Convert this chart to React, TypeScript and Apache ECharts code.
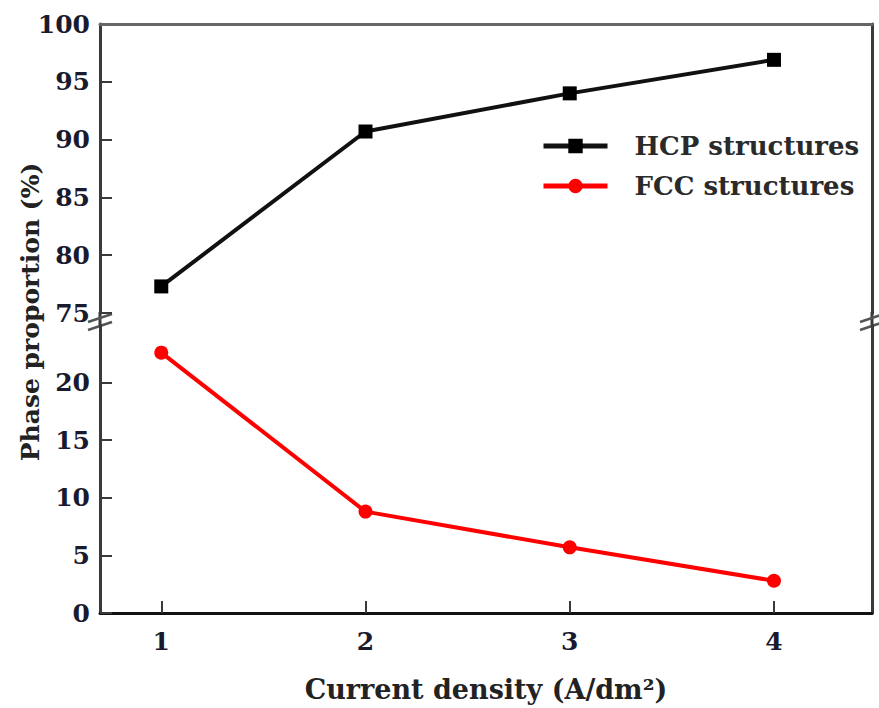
import React, { useEffect, useRef } from "react";
import * as echarts from "echarts";

const xValues = [1, 2, 3, 4];
const hcpValues = [77.3, 90.7, 94.0, 96.9];
const fccValues = [22.6, 8.8, 5.7, 2.8];
const upperTicks = [75, 80, 85, 90, 95, 100];
const lowerTicks = [0, 5, 10, 15, 20];
const seriesNames = ["HCP structures", "FCC structures"];
const xName = "Current density (A/dm²)";
const yName = "Phase proportion (%)";

const FONT = "DejaVu Serif";
const AXIS_COLOR = "#3a3a3a";

export default function App() {
  const ref = useRef<HTMLDivElement>(null);
  useEffect(() => {
    if (!ref.current) return;
    const chart = echarts.init(ref.current, undefined, { renderer: "svg" });
    const labelStyle = {
      fontFamily: FONT,
      fontWeight: "bold" as const,
      fontSize: 25,
      color: "#1a1a2e",
    };
    const plainLine = { show: true, lineStyle: { color: AXIS_COLOR, width: 3 } };
    const tickStyle = { show: true, inside: true, length: 12, lineStyle: { color: AXIS_COLOR, width: 2 } };
    const xMin = 0.7;
    const xMax = 4.48;
    chart.setOption({
      animation: false,
      backgroundColor: "#ffffff",
      grid: [
        { left: 100, right: 7, top: 24, bottom: 395 },
        { left: 100, right: 7, top: 325, bottom: 95 },
      ],
      legend: {
        orient: "vertical",
        left: 536,
        top: 128,
        itemWidth: 64,
        itemHeight: 18,
        itemGap: 14,
        data: seriesNames,
        lineStyle: { width: 5 },
        textStyle: {
          fontFamily: FONT,
          fontWeight: "bold",
          fontSize: 26,
          color: "#2a2a2a",
          padding: [0, 0, 0, 22],
        },
      },
      xAxis: [
        {
          type: "value",
          gridIndex: 0,
          position: "top",
          min: xMin,
          max: xMax,
          axisLine: { show: true, lineStyle: { color: "#666", width: 3 } },
          axisTick: { show: false },
          axisLabel: { show: false },
          splitLine: { show: false },
        },
        {
          type: "value",
          gridIndex: 1,
          position: "bottom",
          min: xMin,
          max: xMax,
          axisLine: { show: true, lineStyle: { color: "#111", width: 3 } },
          axisTick: { ...tickStyle, customValues: xValues },
          axisLabel: { ...labelStyle, margin: 16, customValues: xValues },
          splitLine: { show: false },
          name: xName,
          nameLocation: "middle",
          nameGap: 63,
          nameTextStyle: { fontFamily: FONT, fontWeight: "bold", fontSize: 27, color: "#222" },
        },
      ],
      yAxis: [
        {
          type: "value",
          gridIndex: 0,
          position: "left",
          min: 75,
          max: 100,
          axisLine: plainLine,
          axisTick: { ...tickStyle, customValues: [75, 80, 85, 90, 95] },
          axisLabel: { ...labelStyle, margin: 10, customValues: upperTicks },
          splitLine: { show: false },
        },
        {
          type: "value",
          gridIndex: 0,
          position: "right",
          min: 75,
          max: 100,
          axisLine: plainLine,
          axisTick: { show: false },
          axisLabel: { show: false },
          splitLine: { show: false },
        },
        {
          type: "value",
          gridIndex: 1,
          position: "left",
          min: 0,
          max: 25,
          axisLine: plainLine,
          axisTick: { ...tickStyle, customValues: lowerTicks },
          axisLabel: { ...labelStyle, margin: 10, customValues: lowerTicks },
          splitLine: { show: false },
        },
        {
          type: "value",
          gridIndex: 1,
          position: "right",
          min: 0,
          max: 25,
          axisLine: plainLine,
          axisTick: { show: false },
          axisLabel: { show: false },
          splitLine: { show: false },
        },
      ],
      series: [
        {
          name: seriesNames[0],
          type: "line",
          xAxisIndex: 0,
          yAxisIndex: 0,
          data: xValues.map((x, i) => [x, hcpValues[i]]),
          symbol: "rect",
          symbolSize: 14,
          itemStyle: { color: "#000" },
          lineStyle: { color: "#111", width: 4 },
        },
        {
          name: seriesNames[1],
          type: "line",
          xAxisIndex: 1,
          yAxisIndex: 2,
          data: xValues.map((x, i) => [x, fccValues[i]]),
          symbol: "circle",
          symbolSize: 14,
          itemStyle: { color: "#ff0000" },
          lineStyle: { color: "#ff0000", width: 4 },
        },
      ],
      graphic: [
        { type: "line", shape: { x1: 100, y1: 312, x2: 100, y2: 326 }, style: { stroke: AXIS_COLOR, lineWidth: 3 } },
        { type: "line", shape: { x1: 872, y1: 312, x2: 872, y2: 326 }, style: { stroke: AXIS_COLOR, lineWidth: 3 } },
        { type: "line", shape: { x1: 88, y1: 322, x2: 112, y2: 314 }, style: { stroke: "#555", lineWidth: 2.5 } },
        { type: "line", shape: { x1: 88, y1: 330, x2: 112, y2: 322 }, style: { stroke: "#555", lineWidth: 2.5 } },
        { type: "line", shape: { x1: 860, y1: 322, x2: 884, y2: 314 }, style: { stroke: "#555", lineWidth: 2.5 } },
        { type: "line", shape: { x1: 860, y1: 330, x2: 884, y2: 322 }, style: { stroke: "#555", lineWidth: 2.5 } },
        {
          type: "text",
          x: 30,
          y: 312,
          rotation: Math.PI / 2,
          style: {
            text: yName,
            fontFamily: FONT,
            fontWeight: "bold",
            fontSize: 25,
            fill: "#222",
            textAlign: "center",
            textVerticalAlign: "middle",
          },
        },
      ],
    });
    return () => chart.dispose();
  }, []);
  return <div ref={ref} style={{ width: 879, height: 708, position: "absolute", left: 0, top: 0 }} />;
}
